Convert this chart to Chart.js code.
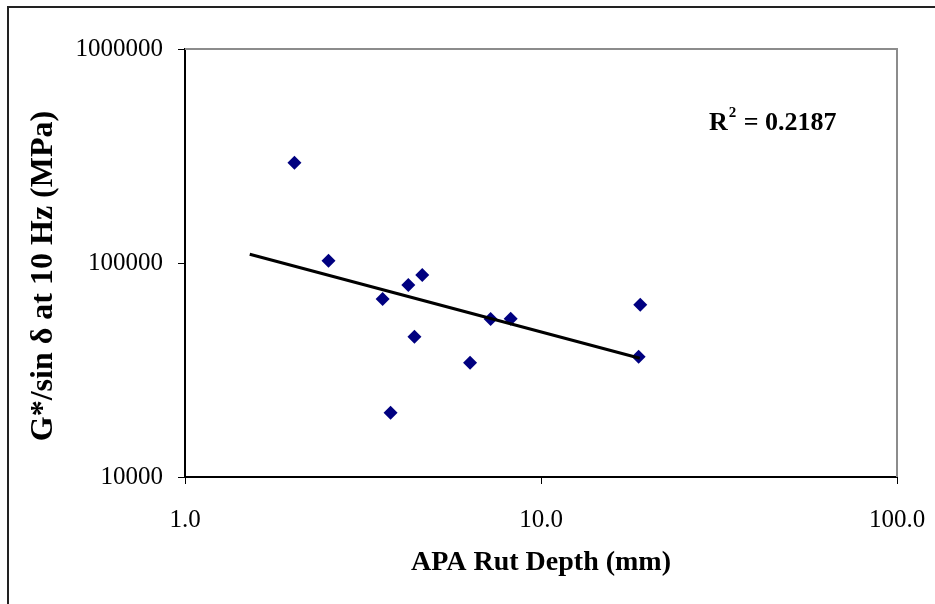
<!DOCTYPE html>
<html>
<head>
<meta charset="utf-8">
<script src="https://cdn.jsdelivr.net/npm/chart.js@4"></script>
<style>
  body { margin: 0; background: #fff; }
  .wrap { position: relative; width: 935px; height: 604px; }
  .frame { position: absolute; left: 7px; top: 6px; width: 940px; height: 610px;
           border-left: 2px solid #222; border-top: 2px solid #222; }
</style>
</head>
<body>
<div class="wrap">
  <div class="frame"></div>
  <canvas id="chart"></canvas>
</div>
<script>
// APA rut depth (mm) vs G*/sin delta at 10 Hz
const rutDepth = [2.03, 2.53, 3.59, 4.24, 4.64, 4.41, 3.78, 6.32, 7.22, 8.22, 19.0, 18.8];
const gStar = [294000, 102500, 67900, 78900, 87900, 45250, 19980, 34200, 54730, 54900, 63850, 36490];

// power trendline end points
const trendX = [1.52, 18.95];
const trendY = [109800, 35900];

const xTicks = [1, 10, 100];
const yTicks = [10000, 100000, 1000000];

const serif = '"Liberation Serif", "Times New Roman", serif';

const textPlugin = {
  id: "textPlugin",
  afterDraw(chart) {
    const ctx = chart.ctx;
    const area = chart.chartArea;
    ctx.save();
    // grey top/right plot frame
    ctx.strokeStyle = "#8c8c8c";
    ctx.lineWidth = 2;
    ctx.beginPath();
    ctx.moveTo(area.left, area.top);
    ctx.lineTo(area.right, area.top);
    ctx.lineTo(area.right, area.bottom);
    ctx.stroke();

    ctx.fillStyle = "#000";
    ctx.textAlign = "center";
    ctx.textBaseline = "middle";
    ctx.font = "bold 28px " + serif;
    ctx.fillText("APA Rut Depth (mm)", 541, 563);

    ctx.save();
    ctx.translate(44, 276);
    ctx.rotate(-Math.PI / 2);
    ctx.font = "bold 32px " + serif;
    ctx.fillText("G*/sin \u03b4 at 10 Hz (MPa)", 0, 0);
    ctx.restore();

    ctx.textAlign = "left";
    ctx.textBaseline = "alphabetic";
    ctx.font = "bold 26px " + serif;
    ctx.fillText("R", 709, 130);
    const rw = ctx.measureText("R").width;
    ctx.font = "bold 15px " + serif;
    ctx.fillText("2", 709 + rw + 1, 117);
    ctx.font = "bold 26px " + serif;
    ctx.fillText("= 0.2187", 709 + rw + 16, 130);
    ctx.restore();
  }
};

new Chart(document.getElementById("chart"), {
  type: "scatter",
  data: {
    datasets: [
      {
        type: "line",
        data: trendX.map((x, i) => ({ x: x, y: trendY[i] })),
        borderColor: "#000",
        borderWidth: 3,
        pointRadius: 0,
        fill: false,
        order: 0,
      },
      {
        data: rutDepth.map((x, i) => ({ x: x, y: gStar[i] })),
        pointStyle: "rectRot",
        pointRadius: 7,
        backgroundColor: "#000080",
        borderColor: "#000080",
        borderWidth: 0,
        order: 1,
      },
    ],
  },
  options: {
    responsive: true,
    maintainAspectRatio: false,
    animation: false,
    layout: { padding: { top: 49, right: 38, left: 0, bottom: 0 } },
    plugins: { legend: { display: false }, tooltip: { enabled: false } },
    scales: {
      x: {
        type: "logarithmic",
        min: 1,
        max: 100,
        afterBuildTicks: (scale) => {
          scale.ticks = xTicks.map((v) => ({ value: v }));
        },
        afterFit: (scale) => {
          scale.height = 127;
          scale.paddingLeft = 0;
          scale.paddingRight = 0;
        },
        ticks: {
          color: "#000",
          font: { family: serif, size: 25 },
          padding: 21,
          maxRotation: 0,
          callback: (v) => Number(v).toFixed(1),
        },
        grid: { drawOnChartArea: false, color: "#000", tickLength: 7 },
        border: { color: "#000", width: 2 },
      },
      y: {
        type: "logarithmic",
        min: 10000,
        max: 1000000,
        afterBuildTicks: (scale) => {
          scale.ticks = yTicks.map((v) => ({ value: v }));
        },
        afterFit: (scale) => {
          scale.width = 185;
          scale.paddingTop = 0;
          scale.paddingBottom = 0;
        },
        ticks: {
          color: "#000",
          font: { family: serif, size: 25 },
          padding: 15,
          callback: (v) => String(v),
        },
        grid: { drawOnChartArea: false, color: "#000", tickLength: 7 },
        border: { color: "#000", width: 2 },
      },
    },
  },
  plugins: [textPlugin],
});
</script>
</body>
</html>
